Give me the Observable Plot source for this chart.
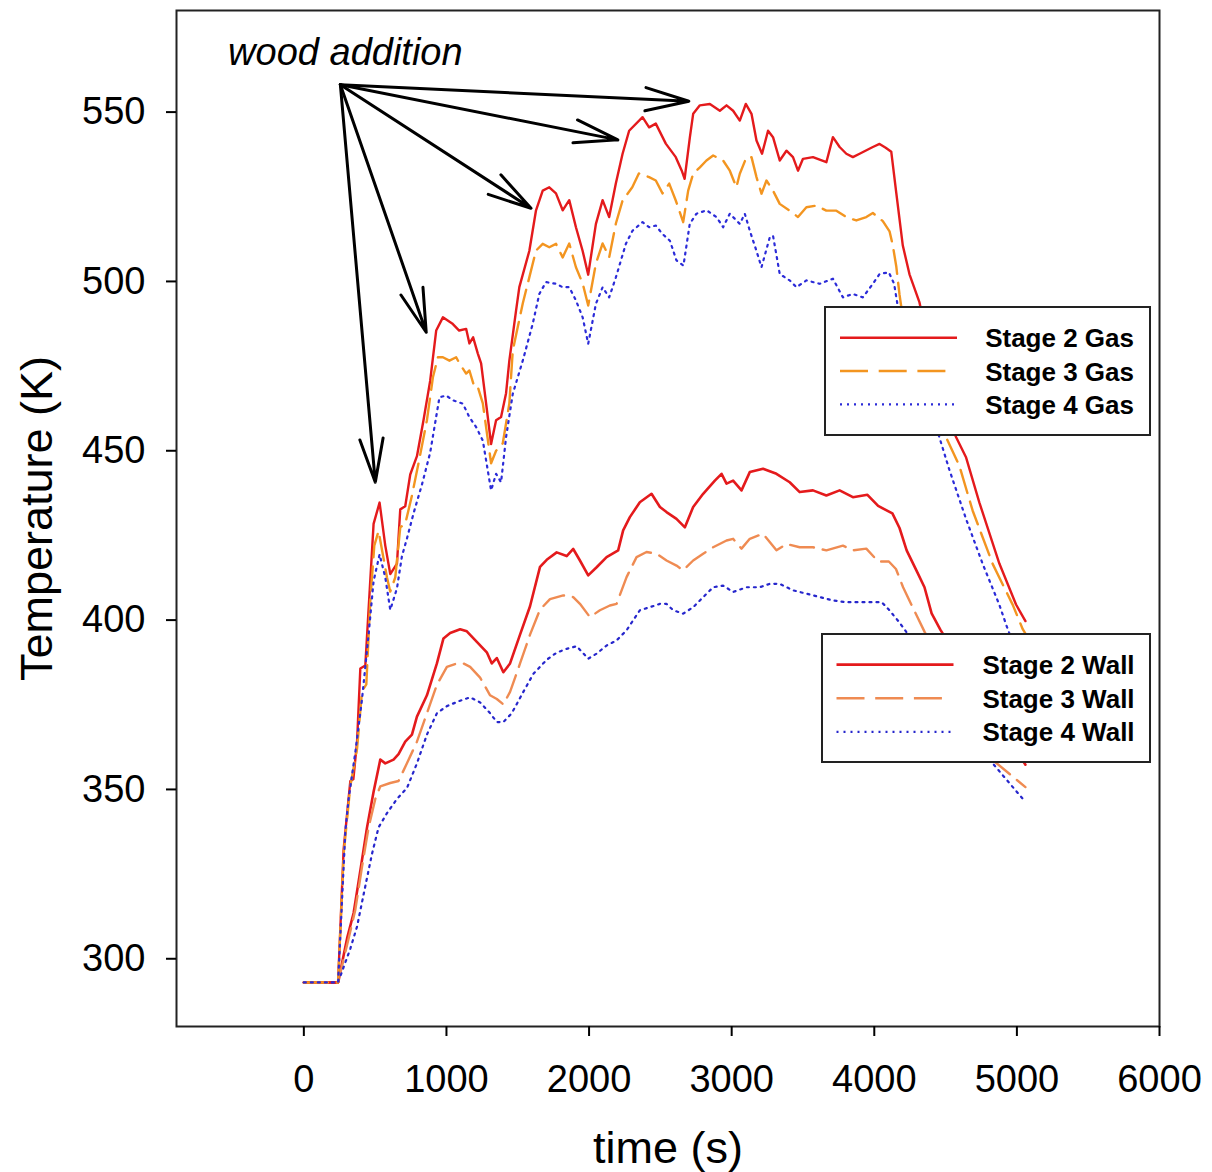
<!DOCTYPE html>
<html><head><meta charset="utf-8">
<script src="https://cdn.jsdelivr.net/npm/d3@7"></script>
<script src="https://cdn.jsdelivr.net/npm/@observablehq/plot@0.6"></script>
<style>
body{margin:0;background:#fff;}
#wrap{position:relative;width:1212px;height:1172px;font-family:"Liberation Sans",Arial,sans-serif;}
.legend{position:absolute;}
</style></head><body><div id="wrap"></div>
<script>
// ---- data: [time (s), temperature (K)] ----
const gas2 = [[0,293],[240,293],[279,332.4],[326,352.5],[347,353],[373,364],[396,385.7],[431,386.6],[489,428.4],[531,434.7],[571,422],[606,413.6],[653,416.7],[676,432.7],[711,433.6],[746,443],[793,448.4],[839,459],[886,470.7],[928,485.5],[975,489.4],[1040,487.6],[1089,485.5],[1138,486],[1161,481.7],[1187,483.5],[1220,478.7],[1243,475.8],[1278,464],[1313,452],[1348,459],[1383,460],[1418,467],[1441,476.6],[1488,491.4],[1511,498.3],[1581,509],[1628,521],[1675,526.8],[1721,527.8],[1768,526],[1815,521],[1861,524],[1908,516],[1955,509],[1994,502],[2048,517],[2095,524],[2141,519],[2188,529],[2235,537.7],[2281,544.5],[2375,548.5],[2421,545.5],[2468,546.6],[2538,540.7],[2608,536.7],[2650,532.7],[2670,530.3],[2707,542.6],[2730,549.5],[2777,552],[2847,552.4],[2917,550.4],[2964,552],[3010,550.4],[3057,547.5],[3099,552.4],[3139,549.5],[3174,541.6],[3213,537.7],[3255,544.5],[3290,542.6],[3337,535.7],[3384,538.6],[3430,536.7],[3465,532.7],[3500,536.2],[3570,536.7],[3664,535.2],[3710,542.6],[3757,539.7],[3804,537.7],[3850,536.7],[3897,537.7],[3990,539.7],[4037,540.6],[4080,539.5],[4119,538.3],[4154,526.2],[4200,510.6],[4247,502.1],[4317,493.8],[4387,479.6],[4492,462],[4574,454],[4644,448],[4737,434.7],[4877,416.7],[4994,404.6],[5060,399.7]];

const gas3 = [[0,293],[240,293],[280,331.4],[326,351],[373,362],[408,379],[438,381],[466,405.8],[494,422],[524,426.3],[583,412.6],[606,408.4],[641,412.6],[676,427.4],[711,428.4],[758,436.8],[804,446.3],[863,459],[905,471.7],[940,477.6],[975,477.6],[1021,476.6],[1068,477.6],[1091,475.8],[1138,472.8],[1161,473.7],[1196,468.8],[1220,468.8],[1255,464],[1313,446.3],[1348,450],[1395,452.2],[1441,464],[1465,479.6],[1535,493.5],[1581,501.2],[1628,509.1],[1675,511.1],[1721,510.1],[1768,511.1],[1815,507.1],[1861,511.2],[1908,504.2],[1955,499.4],[1994,492.9],[2048,505.3],[2095,511.2],[2141,507.1],[2188,517.1],[2235,523.9],[2303,527.8],[2349,531.9],[2421,530.8],[2468,529.8],[2515,526],[2562,528.9],[2608,523.9],[2660,517.5],[2695,526.8],[2730,531.8],[2777,533.7],[2823,535.7],[2870,537.2],[2940,535.7],[2987,532.7],[3033,527.8],[3057,531.8],[3104,536.7],[3139,536.7],[3174,530.8],[3209,525.9],[3244,529.8],[3290,526.8],[3337,522.9],[3407,520.9],[3465,519],[3524,521.9],[3594,522.4],[3664,520.9],[3734,520.9],[3804,519],[3874,518],[3944,519],[3990,520.2],[4060,517.8],[4107,514.8],[4130,510.6],[4154,504.5],[4177,496.1],[4189,492.6],[4352,470.7],[4504,453.9],[4597,445.5],[4690,432.3],[4830,416.6],[4971,404.5],[5041,397.3],[5060,396]];

const gas4 = [[0,293],[240,293],[291,337.7],[314,347.2],[361,361],[408,376.7],[454,395.8],[489,411.5],[531,419.4],[571,412.6],[606,403],[653,409.4],[688,418.9],[723,424.1],[769,431.5],[828,440],[886,449.5],[951,465.8],[998,466.3],[1045,464.9],[1115,463.9],[1161,459.9],[1208,457],[1255,453],[1313,438.3],[1348,443.2],[1383,440.7],[1418,454],[1465,466.8],[1535,476.6],[1605,487.5],[1651,496.3],[1698,499.8],[1768,499.3],[1815,498.3],[1861,498.3],[1908,494.4],[1955,489.4],[1994,481.6],[2048,493.4],[2095,498.3],[2141,495.3],[2188,501.2],[2258,511.1],[2305,515],[2375,517.5],[2421,516],[2468,516.5],[2515,514],[2567,512],[2613,506.2],[2662,504.7],[2706,517],[2753,520],[2824,521],[2894,519],[2940,516],[2987,520],[3057,517],[3092,520],[3127,515],[3174,509],[3209,504.2],[3267,513],[3290,513.5],[3337,502.2],[3407,500.3],[3454,498.3],[3524,500.3],[3617,499.3],[3710,500.8],[3780,495.3],[3850,496.3],[3920,495.3],[3990,499.3],[4037,502.2],[4102,502.7],[4139,499.3],[4165,492.6],[4317,473.1],[4457,453.9],[4527,444.3],[4644,429.8],[4760,416.6],[4877,404.5],[4936,397.3],[5060,384]];

const wall2 = [[0,293],[240,293],[303,306],[349,313.5],[396,326],[443,338.8],[489,349.3],[536,358.8],[571,357.7],[629,358.8],[664,360.4],[711,364.1],[758,366.2],[793,371.5],[863,377.8],[933,387.2],[979,394.6],[1026,396.2],[1096,397.3],[1143,396.7],[1213,393.6],[1283,390.5],[1318,387.2],[1353,388.8],[1399,384.6],[1446,387.2],[1516,395.7],[1586,404.1],[1656,415.7],[1703,417.8],[1773,420],[1843,418.9],[1889,421],[1936,417.6],[1994,413.2],[2053,415.6],[2123,418.6],[2204,420.6],[2239,426.5],[2286,430.4],[2356,434.8],[2438,437.3],[2497,433.4],[2543,431.9],[2613,429.9],[2672,427.4],[2730,433.4],[2800,437.3],[2882,441.2],[2929,443.2],[2964,440.3],[3010,441.2],[3069,438.3],[3127,443.7],[3220,444.7],[3314,443.2],[3407,440.7],[3477,437.8],[3570,438.3],[3664,436.8],[3757,438.3],[3850,436.3],[3952,437],[4027,433.7],[4127,431.5],[4177,427.2],[4227,420.6],[4302,414.1],[4352,409.7],[4402,402],[4464,397.1],[5060,357.3]];

const wall3 = [[0,293],[240,293],[314,306],[361,314.5],[408,327.2],[454,338.8],[501,347.2],[536,350.9],[606,351.9],[664,352.5],[723,357.7],[793,364.1],[863,372.5],[933,380.9],[1003,386.2],[1073,387.2],[1119,387.2],[1166,386.2],[1236,383],[1306,377.8],[1353,376.7],[1399,375.1],[1446,378.8],[1516,387.2],[1586,395.7],[1656,403.1],[1726,406.2],[1819,407.3],[1889,406.8],[1936,404.8],[2006,400.9],[2076,402.9],[2146,404.3],[2193,404.8],[2263,412.7],[2333,418.6],[2403,420.1],[2473,419.6],[2543,417.6],[2613,416.1],[2660,414.7],[2730,417.6],[2800,419.6],[2870,421.5],[2964,423.5],[3010,424],[3069,421.1],[3127,424],[3220,425.5],[3314,420.6],[3384,422.5],[3477,421.5],[3570,421.5],[3664,420.6],[3780,422],[3850,420.6],[3944,421.1],[4027,417.3],[4102,417.3],[4152,415.1],[4202,409.7],[4277,403.1],[4352,396.6],[4807,359.5],[5060,350.7]];

const wall4 = [[0,293],[240,293],[326,303],[373,309.5],[419,319],[478,331],[524,338.8],[583,343],[653,347.2],[723,350.4],[793,357.7],[863,366.2],[933,372.5],[1003,374.6],[1096,376.2],[1166,377.2],[1236,375.7],[1306,372.5],[1353,369.9],[1399,369.9],[1458,372.5],[1539,378.8],[1609,384.1],[1703,388.3],[1773,390.4],[1843,391.5],[1913,392.3],[1994,388.6],[2053,390.1],[2123,392.5],[2193,394],[2263,397],[2356,402.9],[2426,403.8],[2497,404.8],[2543,404.8],[2590,402.9],[2660,401.9],[2730,403.8],[2777,405.8],[2870,409.7],[2940,410.2],[3010,408.3],[3104,409.7],[3197,409.7],[3267,410.7],[3337,410.7],[3430,408.8],[3524,407.8],[3617,406.8],[3710,405.8],[3804,405.3],[3897,405.3],[3990,405.3],[4052,405.3],[4102,403.1],[4165,399.9],[4215,397.1],[4828,357.8],[5060,346.3]];

// annotation: arrows from one origin to wood-addition points
const arrowOrigin = [256, 558.1];
const arrowTips = [[501,440.7],[858,485],[1593,521.6],[2202,541.8],[2700,553.2]];
const annotation = [{label: "wood addition", t: 291, T: 567.4}];

const xTicks = [0,1000,2000,3000,4000,5000,6000];
const yTicks = [300,350,400,450,500,550];
const xLabel = "time (s)";
const yLabel = "Temperature (K)";

const RED = "#e41a1c", GASORANGE = "#f39520", WALLORANGE = "#ef8b52", BLUE = "#2b2bd8", WALLBLUE = "#2626cc";
const DASH = "24,9", DOT = "2,5";

const gasSeries = [
  {name: "Stage 2 Gas", data: gas2, color: RED, dash: null, width: 2.4},
  {name: "Stage 3 Gas", data: gas3, color: GASORANGE, dash: DASH, width: 2.4},
  {name: "Stage 4 Gas", data: gas4, color: BLUE, dash: DOT, width: 2.2}
];
const wallSeries = [
  {name: "Stage 2 Wall", data: wall2, color: RED, dash: null, width: 2.6},
  {name: "Stage 3 Wall", data: wall3, color: WALLORANGE, dash: DASH, width: 2.4},
  {name: "Stage 4 Wall", data: wall4, color: WALLBLUE, dash: DOT, width: 2.2}
];

const lineMark = s => Plot.line(s.data, {x: d => d[0], y: d => d[1], stroke: s.color, strokeWidth: s.width,
  strokeDasharray: s.dash || undefined, strokeLinejoin: "round"});

const FONT = '"Liberation Sans", Arial, sans-serif';
const chart = Plot.plot({
  width: 1212, height: 1172,
  marginLeft: 176, marginRight: 53, marginTop: 10, marginBottom: 146,
  x: {domain: [-893, 6000]},
  y: {domain: [280, 580]},
  style: {fontFamily: FONT, background: "#fff", color: "#000"},
  marks: [
    ...wallSeries.map(lineMark),
    ...gasSeries.map(lineMark),
    Plot.arrow(arrowTips, {x1: () => arrowOrigin[0], y1: () => arrowOrigin[1], x2: d => d[0], y2: d => d[1],
      stroke: "#000", strokeWidth: 3, headLength: 22.5, headAngle: 30}),
    Plot.text(annotation, {x: "t", y: "T", text: "label", fontSize: 38, fontStyle: "italic", fill: "#000", textAnchor: "middle", lineAnchor: "middle"}),
    Plot.frame({stroke: "#222", strokeWidth: 2}),
    Plot.axisX({ticks: xTicks, tickSize: 10, tickPadding: 29, fontSize: 38, label: null, tickFormat: d => String(d), strokeWidth: 2}),
    Plot.axisY({ticks: yTicks, tickSize: 10, tickPadding: 21, fontSize: 38, label: null, tickFormat: d => String(d), strokeWidth: 2}),
    Plot.text([xLabel], {frameAnchor: "bottom", dy: 122, fontSize: 45, fill: "#000", textAnchor: "middle", lineAnchor: "middle"}),
    Plot.text([yLabel], {frameAnchor: "left", dx: -139, rotate: -90, fontSize: 45, fill: "#000", textAnchor: "middle", lineAnchor: "middle"})
  ]
});
const wrap = document.getElementById("wrap");
wrap.appendChild(chart);

// ---- legends (HTML overlays on the plot area) ----
function legend(series, box) {
  const div = document.createElement("div");
  div.className = "legend";
  Object.assign(div.style, {left: box.left + "px", top: box.top + "px", width: box.w + "px", height: box.h + "px"});
  const svg = d3.create("svg").attr("width", box.w).attr("height", box.h).style("display", "block");
  svg.append("rect").attr("x", 1).attr("y", 1).attr("width", box.w - 2).attr("height", box.h - 2)
    .attr("fill", "#fff").attr("stroke", "#222").attr("stroke-width", 2);
  series.forEach((s, i) => {
    const y = box.row0 + i * box.step;
    svg.append("line").attr("x1", box.lx).attr("x2", box.lx + box.len[i]).attr("y1", y).attr("y2", y)
      .attr("stroke", s.color).attr("stroke-width", s.width).attr("stroke-dasharray", s.dash ? (s.dash === DASH ? "28,10.7" : "2,5") : null);
    svg.append("text").attr("x", box.tx).attr("y", y + 9.5).attr("text-anchor", "end")
      .attr("font-family", FONT).attr("font-weight", "bold").attr("font-size", 26).attr("fill", "#000").text(s.name);
  });
  div.appendChild(svg.node());
  wrap.appendChild(div);
}
legend(gasSeries, {left: 824, top: 306, w: 327, h: 130, row0: 31.7, step: 33.3, lx: 16, len: [117, 106, 114], tx: 310});
legend(wallSeries, {left: 821, top: 633, w: 330, h: 130, row0: 31.6, step: 33.6, lx: 15.5, len: [117, 106, 116], tx: 313.6});
</script></body></html>
